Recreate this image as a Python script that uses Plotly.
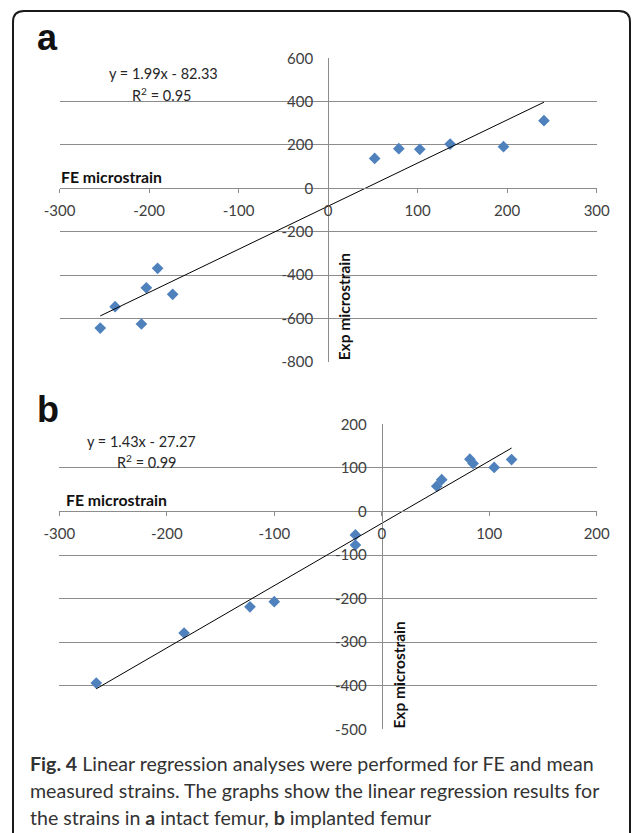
import plotly.graph_objects as go

W, H = 634, 833

# ---------------- data ----------------
# Panel a: intact femur
a_fe = [-254.5, -237.9, -208.5, -203.0, -190.4, -173.6, 52.0, 79.0, 102.4, 136.3, 195.9, 241.1]
a_exp = [-645, -546, -626, -459, -369, -489, 138, 183, 180, 204, 192, 312]
a_slope, a_intercept, a_r2 = 1.99, -82.33, 0.95
a_xticks = [-300, -200, -100, 0, 100, 200, 300]
a_yticks = [-800, -600, -400, -200, 0, 200, 400, 600]

# Panel b: implanted femur
b_fe = [-265.6, -183.9, -122.6, -100.0, -24.5, -24.5, 51.2, 55.8, 82.0, 85.0, 104.6, 120.8]
b_exp = [-394, -279, -219, -207, -54, -77, 58, 73, 120, 110, 101, 119]
b_slope, b_intercept, b_r2 = 1.43, -27.27, 0.99
b_xticks = [-300, -200, -100, 0, 100, 200]
b_yticks = [-500, -400, -300, -200, -100, 0, 100, 200]

caption_lines = [
    "<b>Fig. 4</b> Linear regression analyses were performed for FE and mean",
    "measured strains. The graphs show the linear regression results for",
    "the strains in <b>a</b> intact femur, <b>b</b> implanted femur",
]

# ---------------- styles ----------------
MARKER = "#4F81BD"
GRID = "#8C8C8C"
TICKFONT = dict(family="Lato", size=15, color="#404040")
FONT = "Lato"


def px(x):
    return x / W


def py(y):
    return 1 - y / H


def panel_layout(xdom_px, ydom_px, xrange, yrange, xticks, yticks):
    xd = [px(xdom_px[0]), px(xdom_px[1])]
    yd = [py(ydom_px[1]), py(ydom_px[0])]
    xpos = yd[0] + (0 - yrange[0]) / (yrange[1] - yrange[0]) * (yd[1] - yd[0])
    ypos = xd[0] + (0 - xrange[0]) / (xrange[1] - xrange[0]) * (xd[1] - xd[0])
    xa = dict(domain=xd, range=xrange, anchor="free", position=xpos,
              showline=True, linecolor=GRID, linewidth=1,
              ticks="outside", ticklen=4, tickcolor=GRID, tickwidth=1,
              tickvals=xticks, ticktext=[str(v) for v in xticks],
              showgrid=False, zeroline=False, automargin=False,
              tickfont=TICKFONT, ticklabelstandoff=5, fixedrange=True)
    ya = dict(domain=yd, range=yrange, anchor="free", position=ypos,
              showline=True, linecolor=GRID, linewidth=1,
              ticks="", tickvals=yticks, ticktext=[str(v) for v in yticks],
              showgrid=True, gridcolor=GRID, automargin=False,
              gridwidth=1, zeroline=False, tickfont=TICKFONT,
              ticklabelstandoff=12, fixedrange=True)
    return xa, ya


fig = go.Figure()

# panel a
fig.add_trace(go.Scatter(x=a_fe, y=a_exp, mode="markers", xaxis="x", yaxis="y",
                         marker=dict(symbol="diamond", size=9, color=MARKER)))
ax0, ax1 = min(a_fe), max(a_fe)
fig.add_trace(go.Scatter(x=[ax0, ax1], y=[a_slope * ax0 + a_intercept, a_slope * ax1 + a_intercept],
                         mode="lines", xaxis="x", yaxis="y",
                         line=dict(color="#000000", width=1)))
# panel b
fig.add_trace(go.Scatter(x=b_fe, y=b_exp, mode="markers", xaxis="x2", yaxis="y2",
                         marker=dict(symbol="diamond", size=9, color=MARKER)))
bx0, bx1 = min(b_fe), max(b_fe)
fig.add_trace(go.Scatter(x=[bx0, bx1], y=[b_slope * bx0 + b_intercept, b_slope * bx1 + b_intercept],
                         mode="lines", xaxis="x2", yaxis="y2",
                         line=dict(color="#000000", width=1)))

xa, ya = panel_layout((59.5, 596.7), (58.3, 361.7), [-300, 300], [-800, 600], a_xticks, a_yticks)
xb, yb = panel_layout((59.3, 596.7), (424.3, 729.3), [-300, 200], [-500, 200], b_xticks, b_yticks)

annotations = []


def paper_text(text, x, y, size, bold=False, xanchor="center", color="#262626", family=FONT):
    annotations.append(dict(text=f"<b>{text}</b>" if bold else text, x=px(x), y=py(y),
                            xref="paper", yref="paper", xanchor=xanchor, yanchor="middle",
                            showarrow=False, font=dict(family=family, size=size, color=color)))


# panel labels
paper_text("a", 35, 37, 36, bold=True, xanchor="left", color="#111111", family="Liberation Sans")
paper_text("b", 35, 410, 36, bold=True, xanchor="left", color="#111111", family="Liberation Sans")

# equations
paper_text(f"y = {a_slope}x - {abs(a_intercept)}", 163.5, 73, 14.5)
paper_text(f"R<sup>2</sup> = {a_r2}", 161.5, 94, 14.5)
paper_text(f"y = {b_slope}x - {abs(b_intercept)}", 141.5, 441.7, 14.5)
paper_text(f"R<sup>2</sup> = {b_r2}", 146.5, 461.7, 14.5)

# axis titles
paper_text("FE microstrain", 59, 177, 15.8, bold=True, xanchor="left", color="#111111")
paper_text("FE microstrain", 64, 499, 15.8, bold=True, xanchor="left", color="#111111")
annotations.append(dict(text="<b>Exp microstrain</b>", x=0, y=-800, xref="x", yref="y",
                        xanchor="left", yanchor="bottom", textangle=-90, xshift=5, yshift=-1,
                        showarrow=False, font=dict(family=FONT, size=15.5, color="#111111")))
annotations.append(dict(text="<b>Exp microstrain</b>", x=0, y=-500, xref="x2", yref="y2",
                        xanchor="left", yanchor="bottom", textangle=-90, xshift=6, yshift=-1,
                        showarrow=False, font=dict(family=FONT, size=15.5, color="#111111")))

# caption
for i, line in enumerate(caption_lines):
    paper_text(line, 28, 763 + 27 * i, 19.6, xanchor="left", color="#333333")

# rounded frame (open at bottom)
fx0, fx1, fy0 = px(13), px(630), py(11)
fyb = -0.05
rx, ry = 11 / W, 11 / H
frame_path = (f"M {fx0},{fyb} L {fx0},{fy0 - ry} Q {fx0},{fy0} {fx0 + rx},{fy0} "
              f"L {fx1 - rx},{fy0} Q {fx1},{fy0} {fx1},{fy0 - ry} L {fx1},{fyb}")

fig.update_layout(
    width=W, height=H, autosize=False,
    margin=dict(l=0, r=0, t=0, b=0, autoexpand=False),
    paper_bgcolor="white", plot_bgcolor="white",
    showlegend=False, hovermode=False,
    xaxis=xa, yaxis=ya, xaxis2=xb, yaxis2=yb,
    annotations=annotations,
    shapes=[dict(type="path", path=frame_path, xref="paper", yref="paper",
                 line=dict(color="#1a1a1a", width=2))],
)

fig.write_html("out.html", config={"displayModeBar": False},
               post_script="document.body.style.margin='0';document.body.style.overflow='hidden';")
